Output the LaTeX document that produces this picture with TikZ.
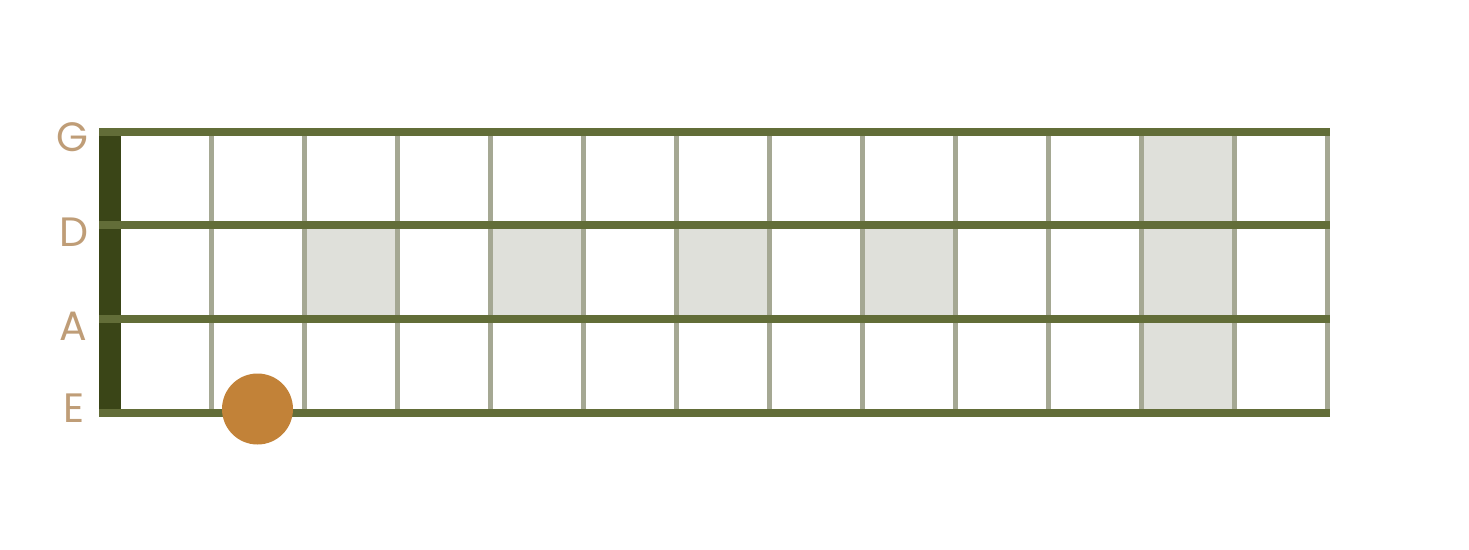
\documentclass[tikz,border=0pt]{standalone}
\usepackage{fontspec}
\setmainfont{Poppins}
\definecolor{strcol}{HTML}{626D38}
\definecolor{nutcol}{HTML}{3A4517}
\definecolor{fretcol}{HTML}{A5A893}
\definecolor{shadecol}{HTML}{DFE0DA}
\definecolor{dotcol}{HTML}{C28238}
\definecolor{labcol}{HTML}{BF9D77}
\tikzset{
  stringline/.style={draw=strcol, line width=8.5pt},
  fretline/.style={draw=fretcol, line width=5pt},
  shadecell/.style={fill=shadecol},
  nutbar/.style={fill=nutcol},
  notedot/.style={circle, fill=dotcol, minimum size=71pt, inner sep=0pt},
  strlab/.style={text=labcol, font=\fontsize{41}{41}\selectfont, inner sep=0pt}
}
\begin{document}
\begin{tikzpicture}[x=1pt,y=-1pt]
\useasboundingbox (0,0) rectangle (1469,549);
\fill[white] (0,0) rectangle (1469,549);
% shaded cells
\fill[shadecell] (304.5,225) rectangle (397.5,319);
\fill[shadecell] (490.5,225) rectangle (583.5,319);
\fill[shadecell] (676.5,225) rectangle (769.5,319);
\fill[shadecell] (862.5,225) rectangle (955.5,319);
\fill[shadecell] (1141.5,132) rectangle (1234.5,413);
% frets
\foreach \i in {0,...,12}
  \draw[fretline] ({211.5+93*\i},132) -- ({211.5+93*\i},413);
% nut
\fill[nutbar] (99,132) rectangle (121,413);
% strings
\foreach \y in {132,225,319,413}
  \draw[stringline] (99,\y) -- (1330,\y);
% note
\node[notedot] (note) at (257.5,409) {};
% labels
\node[strlab] (G) at (72,137.5) {G};
\node[strlab] (D) at (73.5,232) {D};
\node[strlab] (A) at (73,326) {A};
\node[strlab] (E) at (74,408.5) {E};
\end{tikzpicture}
\end{document}
